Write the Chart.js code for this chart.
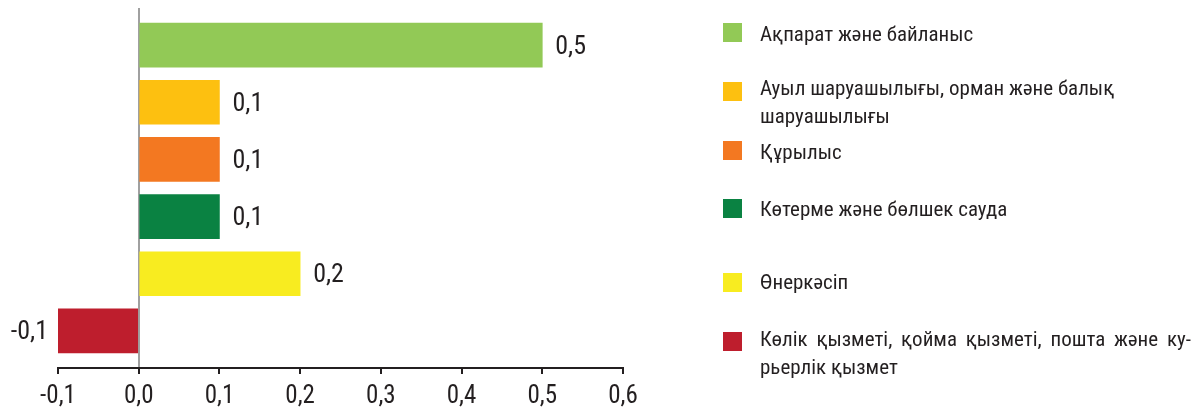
<!DOCTYPE html>
<html>
<head>
<meta charset="utf-8">
<script src="https://cdn.jsdelivr.net/npm/chart.js@4.4.1/dist/chart.umd.min.js"></script>
<style>
  html, body { margin: 0; padding: 0; background: #ffffff; }
  #wrap { position: relative; width: 1199px; height: 409px; overflow: hidden; }
  #chart { position: absolute; left: 0; top: 0; }
  .legend-item { position: absolute; left: 723px; top: 0; }
  .swatch { position: absolute; left: 0; width: 19px; height: 19px; }
  .ltext { position: absolute; left: 37px; width: 431px; font-family: "Roboto Condensed", "Liberation Sans", sans-serif; font-size: 21px; line-height: 28px; color: #231f20; white-space: nowrap; }
  .ltext div.just { text-align: justify; text-align-last: justify; white-space: normal; }
</style>
</head>
<body>
<div id="wrap">
  <canvas id="chart" width="1199" height="409"></canvas>
  <div id="legend"></div>
</div>
<script>
// ---- data ----
const categories = [
  "Ақпарат және байланыс",
  "Ауыл шаруашылығы, орман және балық шаруашылығы",
  "Құрылыс",
  "Көтерме және бөлшек сауда",
  "Өнеркәсіп",
  "Көлік қызметі, қойма қызметі, пошта және курьерлік қызмет"
];
const legendLines = [
  ["Ақпарат және байланыс"],
  ["Ауыл шаруашылығы, орман және балық", "шаруашылығы"],
  ["Құрылыс"],
  ["Көтерме және бөлшек сауда"],
  ["Өнеркәсіп"],
  ["Көлік қызметі, қойма қызметі, пошта және ку-", "рьерлік қызмет"]
];
const values = [0.5, 0.1, 0.1, 0.1, 0.2, -0.1];
const colors = ["#92c956", "#fdc010", "#f37821", "#0a8242", "#f8ec20", "#be1e2d"];
const xTicks = [-0.1, 0.0, 0.1, 0.2, 0.3, 0.4, 0.5, 0.6];

const fontFamily = '"Roboto Condensed", "Liberation Sans", sans-serif';
const fmt = v => v.toFixed(1).replace('.', ',');

// ---- legend (HTML, built from the arrays) ----
const swatchTops = [23, 82, 141, 199, 273, 332];
const textTops = [20, 74, 138, 195, 268, 325];
const legendEl = document.getElementById('legend');
categories.forEach((c, i) => {
  const item = document.createElement('div');
  item.className = 'legend-item';
  const sw = document.createElement('div');
  sw.className = 'swatch';
  sw.style.top = swatchTops[i] + 'px';
  sw.style.background = colors[i];
  const tx = document.createElement('div');
  tx.className = 'ltext';
  tx.style.top = textTops[i] + 'px';
  tx.title = c;
  legendLines[i].forEach((ln, j) => {
    const d = document.createElement('div');
    d.textContent = ln;
    if (i === 5 && j === 0) d.className = 'just';
    tx.appendChild(d);
  });
  item.appendChild(sw);
  item.appendChild(tx);
  legendEl.appendChild(item);
});

// ---- value labels plugin ----
const valueLabels = {
  id: 'valueLabels',
  afterDatasetsDraw(chart) {
    const ctx = chart.ctx;
    const meta = chart.getDatasetMeta(0);
    ctx.save();
    ctx.font = '26px ' + fontFamily;
    ctx.fillStyle = '#231f20';
    ctx.textBaseline = 'middle';
    meta.data.forEach((el, i) => {
      const v = values[i];
      if (v >= 0) {
        ctx.textAlign = 'left';
        ctx.fillText(fmt(v), el.x + 13, el.y + 2);
      } else {
        ctx.textAlign = 'right';
        ctx.fillText(fmt(v), el.x - 10, el.y + 2);
      }
    });
    ctx.restore();
  }
};

new Chart(document.getElementById('chart'), {
  type: 'bar',
  data: {
    labels: categories,
    datasets: [{
      data: values.map((v, i) => ({ x: v, y: i })),
      backgroundColor: colors,
      borderWidth: 0,
      barThickness: 44
    }]
  },
  options: {
    indexAxis: 'y',
    responsive: false,
    animation: false,
    layout: { padding: { left: 58, right: 576, top: 8, bottom: 0 } },
    plugins: { legend: { display: false }, tooltip: { enabled: false } },
    scales: {
      x: {
        type: 'linear',
        min: -0.1,
        max: 0.6,
        afterBuildTicks: (scale) => { scale.ticks = xTicks.map(v => ({ value: v })); },
        afterFit: (scale) => { scale.height = 41; },
        ticks: {
          callback: (v) => fmt(v),
          font: { family: fontFamily, size: 25 },
          color: '#231f20',
          padding: 8,
          maxRotation: 0
        },
        grid: {
          drawOnChartArea: true,
          color: (c) => (c.tick && Math.abs(c.tick.value) < 1e-9) ? '#a0a0a0' : 'rgba(0,0,0,0)',
          lineWidth: 2,
          tickColor: '#231f20',
          tickLength: 6,
          tickWidth: 2
        },
        border: { display: true, color: '#231f20', width: 2 }
      },
      y: {
        type: 'linear',
        reverse: true,
        offset: false,
        min: -0.65,
        max: 5.65,
        display: false
      }
    }
  },
  plugins: [valueLabels]
});
</script>
</body>
</html>
